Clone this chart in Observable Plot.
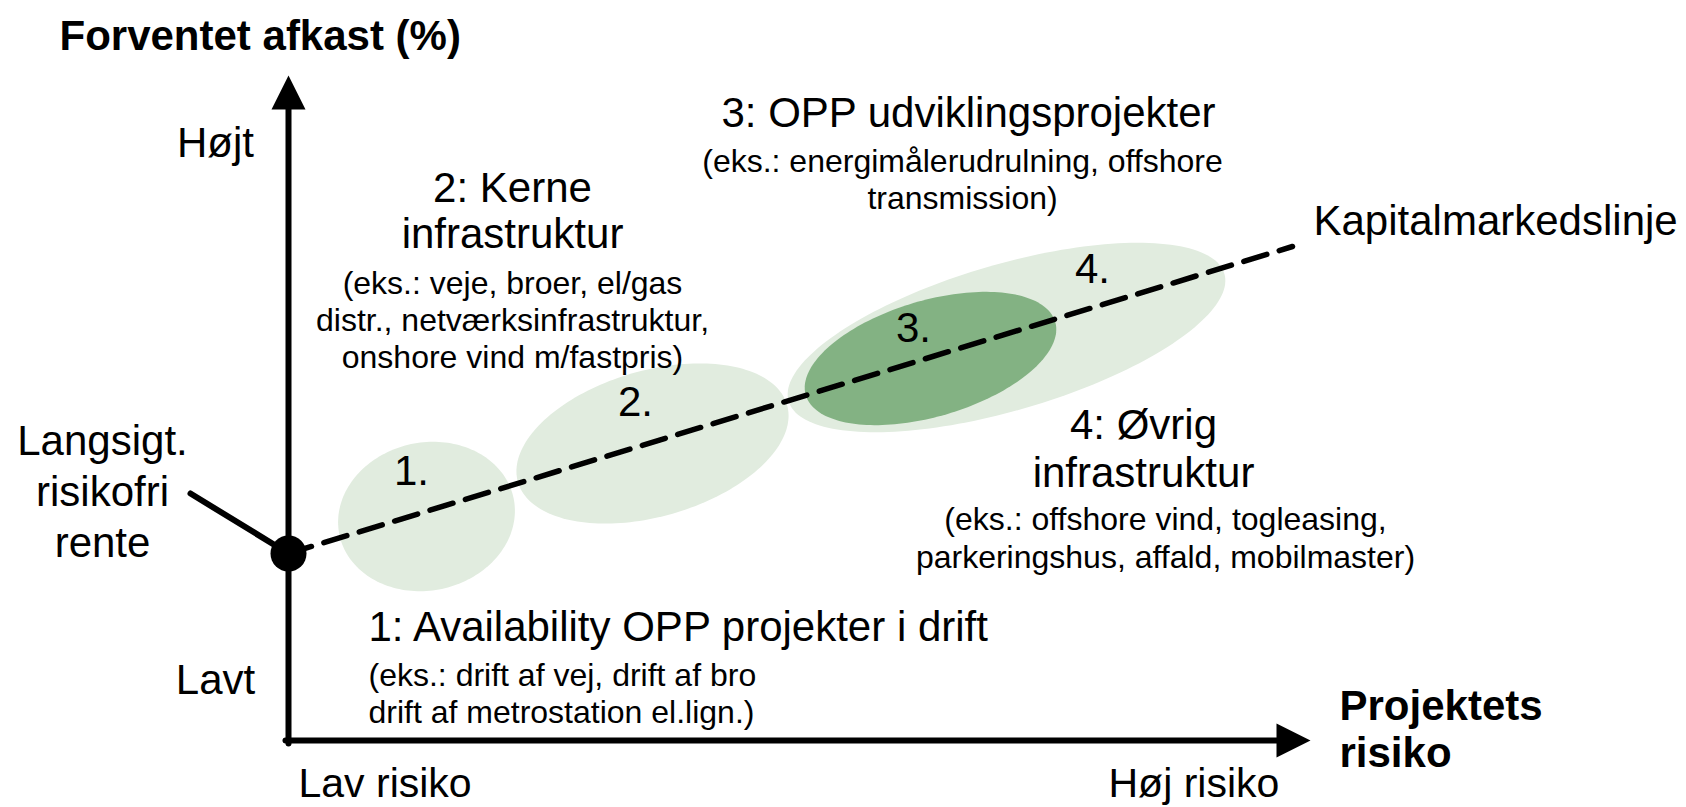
<!DOCTYPE html>
<html><head><meta charset="utf-8">
<script src="https://cdn.jsdelivr.net/npm/d3@7"></script>
<script src="https://cdn.jsdelivr.net/npm/@observablehq/plot@0.6"></script>
<style>body{margin:0;background:#fff}</style>
</head><body><div id="chart"></div>
<script>
// Diagram coordinates: x = project risk (left→right), y = expected return (screen units, top→down)
const zoneNames   = ["1.", "2.", "4.", "3."];
const zoneRisk    = [426, 652, 1006, 930];
const zoneReturn  = [516, 443, 337, 358];
const zoneSpread  = [89, 140, 227, 130];
const zoneDepth   = [74, 73, 73, 58];
const zoneTilt    = [12, 16, 16.3, 16.4];
const zoneDark    = [false, false, false, true];

const origin = [288, 740];
const yAxisTip = 75;
const xAxisTip = 1310;
const riskFree = [288, 553];
const cmlEnd = [1292, 246];
const pointerFrom = [190, 493];

const bigCentered = [
  ["Højt", 215, 143], ["Lavt", 215, 680],
  ["Langsigt.", 102, 441], ["risikofri", 102, 492], ["rente", 102, 543],
  ["3: OPP udviklingsprojekter", 968, 113],
  ["2: Kerne", 512, 188], ["infrastruktur", 512, 234],
  ["4: Øvrig", 1143, 425], ["infrastruktur", 1143, 473],
  ["1.", 411, 471], ["2.", 635, 402], ["3.", 913, 328], ["4.", 1092, 269]
];
const bigLeft = [
  ["Kapitalmarkedslinje", 1313, 221],
  ["1: Availability OPP projekter i drift", 368, 627]
];
const bottomLeft = [
  ["Lav risiko", 298, 783], ["Høj risiko", 1108, 783]
];
const smallCentered = [
  ["(eks.: energimålerudrulning, offshore", 962, 161], ["transmission)", 962, 198],
  ["(eks.: veje, broer, el/gas", 512, 283], ["distr., netværksinfrastruktur,", 512, 320],
  ["onshore vind m/fastpris)", 512, 357],
  ["(eks.: offshore vind, togleasing,", 1165, 519], ["parkeringshus, affald, mobilmaster)", 1165, 557]
];
const smallLeft = [
  ["(eks.: drift af vej, drift af bro", 368, 675], ["drift af metrostation el.lign.)", 368, 712]
];
const boldLeft = [
  ["Forventet afkast (%)", 59, 36], ["Projektets", 1339, 706], ["risiko", 1339, 753]
];

function ellipse(i) {
  const pts = [], th = zoneTilt[i] * Math.PI / 180;
  for (let k = 0; k < 180; k++) {
    const t = 2 * Math.PI * k / 180;
    const u = zoneSpread[i] * Math.cos(t), v = zoneDepth[i] * Math.sin(t);
    pts.push([zoneRisk[i] + u * Math.cos(th) - v * Math.sin(th),
              zoneReturn[i] - (u * Math.sin(th) + v * Math.cos(th))]);
  }
  return pts;
}
const X = d => d[0], Y = d => d[1];
const font = "Liberation Sans, Arial, Helvetica, sans-serif";
const txt = (rows, size, anchor, weight) => Plot.text(rows, {
  x: d => d[1], y: d => d[2], text: d => d[0], textAnchor: anchor,
  fontSize: size, fontWeight: weight, fill: "#000", lineAnchor: "middle"
});

const marks = [];
zoneNames.forEach((n, i) => marks.push(Plot.line(ellipse(i), {
  x: X, y: Y, curve: "linear-closed", stroke: "none",
  fill: zoneDark[i] ? "#83b283" : "#e1ecdf"
})));
marks.push(
  Plot.line([riskFree, cmlEnd], {x: X, y: Y, stroke: "#000", strokeWidth: 5.5, strokeDasharray: "24,13"}),
  Plot.line([[origin[0], origin[1] + 3], [origin[0], yAxisTip + 30]], {x: X, y: Y, stroke: "#000", strokeWidth: 6}),
  Plot.line([[origin[0], yAxisTip], [origin[0] - 17, yAxisTip + 34], [origin[0] + 17, yAxisTip + 34]], {x: X, y: Y, curve: "linear-closed", fill: "#000", stroke: "none"}),
  Plot.line([[origin[0] - 3, origin[1]], [xAxisTip - 30, origin[1]]], {x: X, y: Y, stroke: "#000", strokeWidth: 6}),
  Plot.line([[xAxisTip, origin[1]], [xAxisTip - 34, origin[1] - 17], [xAxisTip - 34, origin[1] + 17]], {x: X, y: Y, curve: "linear-closed", fill: "#000", stroke: "none"}),
  Plot.line([pointerFrom, riskFree], {x: X, y: Y, stroke: "#000", strokeWidth: 6}),
  Plot.dot([riskFree], {x: X, y: Y, r: 18, fill: "#000", stroke: "none"}),
  txt(bigCentered, 42, "middle", "normal"),
  txt(bigLeft, 42, "start", "normal"),
  txt(bottomLeft, 41, "start", "normal"),
  txt(smallCentered, 32, "middle", "normal"),
  txt(smallLeft, 32, "start", "normal"),
  txt(boldLeft, 42, "start", "bold")
);

const chart = Plot.plot({
  width: 1686, height: 807,
  margin: 0,
  x: {domain: [0, 1686], range: [0, 1686], axis: null},
  y: {domain: [0, 807], range: [0, 807], axis: null},
  style: {fontFamily: font, background: "#fff"},
  marks
});
chart.style.display = "block";
document.getElementById("chart").appendChild(chart);
</script>
</body></html>
